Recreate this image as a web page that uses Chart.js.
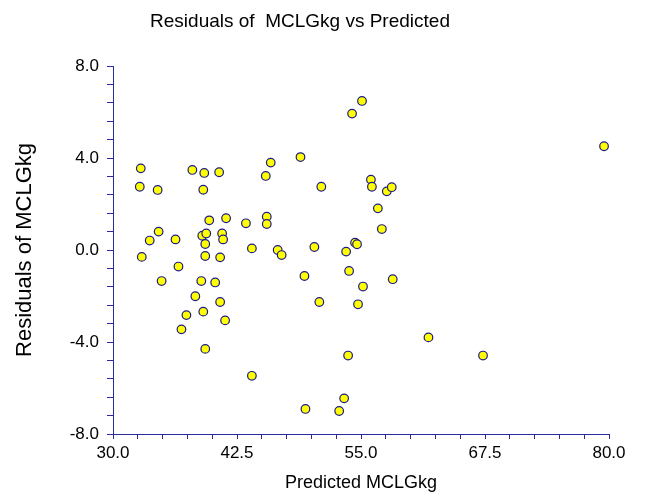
<!DOCTYPE html>
<html>
<head>
<meta charset="utf-8">
<script src="https://cdn.jsdelivr.net/npm/chart.js@4/dist/chart.umd.min.js"></script>
<style>
  html, body { margin: 0; padding: 0; background: #ffffff; }
  #wrap { width: 647px; height: 495px; position: relative; }
</style>
</head>
<body>
<div id="wrap"><canvas id="c"></canvas></div>
<script>
// Predicted MCLGkg (x) and residuals (y), one entry per observation
const predicted = [
  32.8, 38.0, 39.2, 40.7, 32.7, 34.5, 39.1, 39.7, 41.4, 43.4,
  34.6, 33.7, 36.3, 39.0, 39.4, 41.0, 41.1, 39.3, 44.0, 32.9,
  39.3, 40.8, 36.6, 34.9, 38.9, 40.3, 38.3, 40.8, 37.4, 39.1,
  41.3, 36.9, 39.3, 44.0, 55.1, 54.1, 45.9, 48.9, 45.4, 51.0,
  56.0, 56.1, 57.6, 58.1, 56.7, 57.1, 45.5, 45.5, 46.6, 47.0,
  50.3, 53.5, 54.4, 54.6, 49.3, 53.8, 58.2, 55.2, 50.8, 54.7,
  53.7, 53.3, 49.4, 52.8, 79.5, 61.8, 67.3
];
const residuals = [
  3.55, 3.48, 3.35, 3.38, 2.75, 2.61, 2.62, 1.29, 1.38, 1.16,
  0.80, 0.41, 0.46, 0.62, 0.72, 0.72, 0.46, 0.26, 0.07, -0.30,
  -0.26, -0.32, -0.72, -1.35, -1.35, -1.41, -2.01, -2.26, -2.83, -2.68,
  -3.06, -3.45, -4.30, -5.47, 6.48, 5.93, 3.80, 4.04, 3.22, 2.75,
  3.06, 2.75, 2.55, 2.73, 1.81, 0.91, 1.45, 1.13, 0.00, -0.22,
  0.13, -0.07, 0.32, 0.25, -1.13, -0.91, -1.27, -1.59, -2.26, -2.36,
  -4.59, -6.45, -6.91, -7.00, 4.51, -3.80, -4.59
];

// Axis ranges and tick spacing (labelled every 5th tick)
const xRange = [30, 80];
const xStep = 2.5;
const yRange = [-8, 8];
const yStep = 0.8;

const titleText = 'Residuals of  MCLGkg vs Predicted';
const xTitle = 'Predicted MCLGkg';
const yTitle = 'Residuals of MCLGkg';

const AXIS = '#2b2b9c';
const FONT = '"Liberation Sans", Arial, sans-serif';

const points = predicted.map((x, i) => ({ x, y: residuals[i] }));

function stepTicks(min, max, step) {
  const n = Math.round((max - min) / step);
  const out = [];
  for (let i = 0; i <= n; i++) out.push({ value: min + i * step, major: i % 5 === 0 });
  return out;
}

const titlePlugin = {
  id: 'plotTitle',
  afterDraw(chart) {
    const ctx = chart.ctx;
    ctx.save();
    ctx.font = '19px ' + FONT;
    ctx.fillStyle = '#000000';
    ctx.textAlign = 'center';
    ctx.textBaseline = 'middle';
    ctx.fillText(titleText, 300, 22);
    ctx.restore();
  }
};

new Chart(document.getElementById('c'), {
  type: 'scatter',
  data: {
    datasets: [{
      data: points,
      backgroundColor: '#ffff00',
      borderColor: '#1c1c85',
      borderWidth: 1.2,
      pointRadius: 4.3,
      pointHoverRadius: 4.3
    }]
  },
  options: {
    responsive: true,
    maintainAspectRatio: false,
    animation: false,
    layout: { padding: { top: 66, right: 38, bottom: 0, left: 0 } },
    plugins: {
      legend: { display: false },
      tooltip: { enabled: false },
      title: { display: false }
    },
    scales: {
      x: {
        type: 'linear',
        min: xRange[0],
        max: xRange[1],
        afterBuildTicks(s) { s.ticks = stepTicks(xRange[0], xRange[1], xStep); },
        afterFit(s) { s.height = 61; },
        grid: { display: true, drawOnChartArea: false, drawTicks: true, tickLength: 5, color: AXIS, lineWidth: 1 },
        border: { display: true, color: AXIS, width: 1 },
        ticks: {
          autoSkip: false,
          maxRotation: 0,
          padding: 4,
          color: '#000000',
          font: { family: FONT, size: 17 },
          callback(v, i) { return i % 5 === 0 ? v.toFixed(1) : ''; }
        },
        title: {
          display: true,
          text: xTitle,
          color: '#000000',
          font: { family: FONT, size: 18 },
          padding: { top: 0, bottom: 1 }
        }
      },
      y: {
        type: 'linear',
        min: yRange[0],
        max: yRange[1],
        afterBuildTicks(s) { s.ticks = stepTicks(yRange[0], yRange[1], yStep); },
        afterFit(s) { s.width = 113; },
        grid: { display: true, drawOnChartArea: false, drawTicks: true, tickLength: 6, color: AXIS, lineWidth: 1 },
        border: { display: true, color: AXIS, width: 1 },
        ticks: {
          autoSkip: false,
          padding: 8,
          color: '#000000',
          font: { family: FONT, size: 17 },
          callback(v, i) { return i % 5 === 0 ? v.toFixed(1) : ''; }
        },
        title: {
          display: true,
          text: yTitle,
          color: '#000000',
          font: { family: FONT, size: 22 },
          padding: { top: 12, bottom: 0 }
        }
      }
    }
  },
  plugins: [titlePlugin]
});
</script>
</body>
</html>
